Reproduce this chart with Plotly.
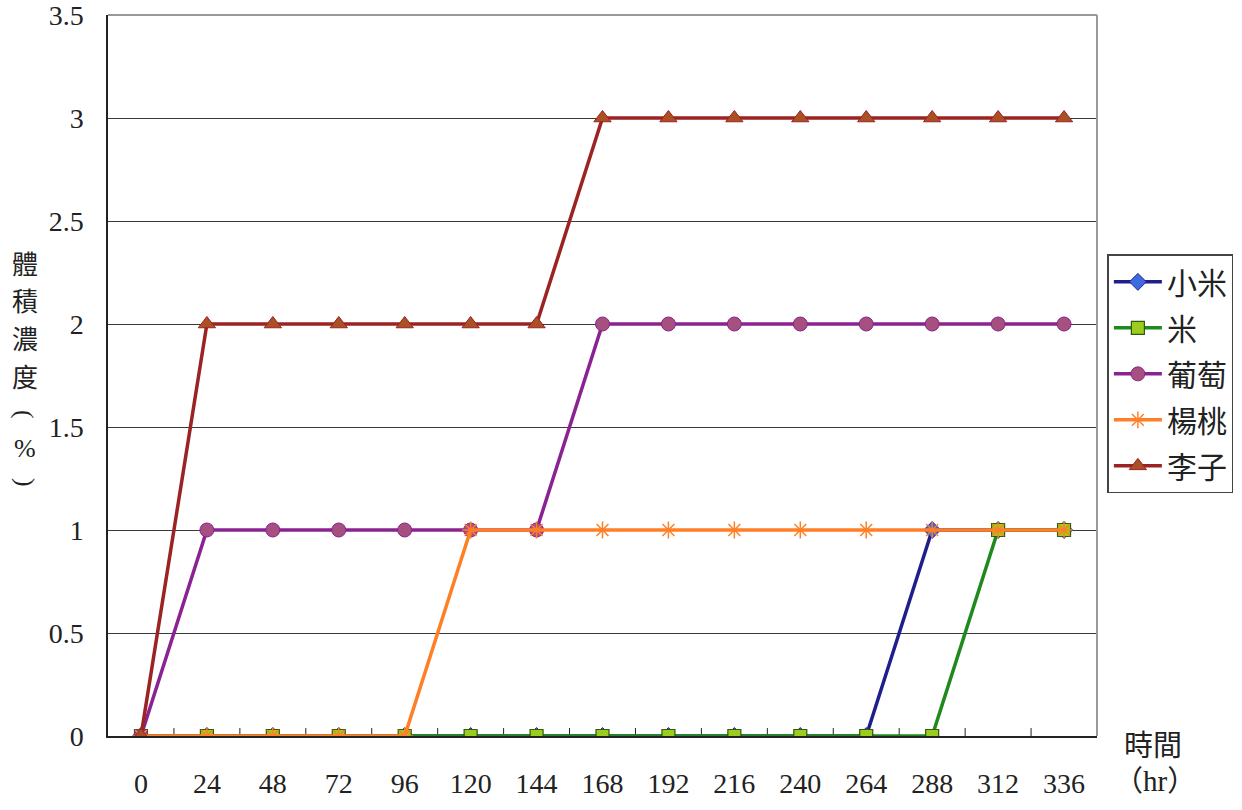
import plotly.graph_objects as go

# Sampling times (hours) and volume concentration (%) for each sample
hours = [0, 24, 48, 72, 96, 120, 144, 168, 192, 216, 240, 264, 288, 312, 336]
hour_labels = [str(h) for h in hours]

millet = [0, 0, 0, 0, 0, 0, 0, 0, 0, 0, 0, 0, 1, 1, 1]        # 小米
rice = [0, 0, 0, 0, 0, 0, 0, 0, 0, 0, 0, 0, 0, 1, 1]          # 米
grape = [0, 1, 1, 1, 1, 1, 1, 2, 2, 2, 2, 2, 2, 2, 2]         # 葡萄
starfruit = [0, 0, 0, 0, 0, 1, 1, 1, 1, 1, 1, 1, 1, 1, 1]     # 楊桃
plum = [0, 2, 2, 2, 2, 2, 2, 3, 3, 3, 3, 3, 3, 3, 3]          # 李子

y_ticks = [0, 0.5, 1, 1.5, 2, 2.5, 3, 3.5]
y_tick_text = ["0", "0.5", "1", "1.5", "2", "2.5", "3", "3.5"]

SERIF = "Liberation Serif, Noto Sans CJK TC, serif"
CJK = "Noto Sans CJK TC, Liberation Serif, serif"

x_idx = list(range(len(hours)))

series = [
    ("小米", millet, "#1f1f8c", dict(symbol="diamond", size=13, color="#3d6be0",
                                    line=dict(color="#1f1f8c", width=1))),
    ("米", rice, "#1e8a1e", dict(symbol="square", size=13, color="#9ccc1e",
                                 line=dict(color="#2f5a10", width=1.2))),
    ("葡萄", grape, "#8a2391", dict(symbol="circle", size=14, color="#a5507f",
                                   line=dict(color="#8a2391", width=1))),
    ("楊桃", starfruit, "#ff7f27", dict(symbol="asterisk-open", size=14, color="#ff7f27",
                                      line=dict(color="#ff7f27", width=1.5))),
    ("李子", plum, "#9b2323", dict(symbol="triangle-up", size=15, color="#ab5024",
                                  line=dict(color="#9b2323", width=1))),
]

fig = go.Figure()
for name, vals, lc, mk in series:
    fig.add_trace(go.Scatter(
        x=x_idx, y=vals, name=name, legendgroup=name, mode="lines+markers",
        line=dict(color=lc, width=3.5), marker=mk,
    ))

fig.update_layout(
    width=1242, height=810,
    margin=dict(l=108, r=145, t=15, b=74, autoexpand=False),
    paper_bgcolor="white", plot_bgcolor="white",
    font=dict(family=SERIF, size=28, color="#222"),
    legend=dict(
        x=1.0105, y=0.668, xanchor="left", yanchor="top",
        bordercolor="#444", borderwidth=1.5, bgcolor="rgba(255,255,255,0)",
        font=dict(family=CJK, size=30, color="#222"),
        tracegroupgap=4, itemwidth=48,
    ),
    showlegend=True,
)

fig.update_xaxes(
    type="linear", range=[-0.5, len(hours) - 0.5],
    tickmode="array", tickvals=x_idx, ticktext=hour_labels,
    showgrid=False, zeroline=False, automargin=False,
    showline=True, linecolor="#222", linewidth=1.5,
    ticks="", ticklabelstandoff=22, ticklabeloverflow="allow",
)

fig.update_yaxes(
    range=[0, 3.50001], tickmode="array", tickvals=y_ticks, ticktext=y_tick_text,
    showgrid=True, gridcolor="#3a3a3a", gridwidth=1, automargin=False,
    zeroline=False, showline=True, linecolor="#222", linewidth=1.5,
    ticks="outside", ticklen=0, ticklabelstandoff=17, ticklabeloverflow="allow",
)

shapes = [
    # top and right frame of the plot area
    dict(type="line", xref="paper", yref="paper", x0=0, x1=1, y0=1, y1=1,
         line=dict(color="#999", width=2), layer="above"),
    dict(type="line", xref="paper", yref="paper", x0=1, x1=1, y0=0, y1=1,
         line=dict(color="#999", width=2), layer="above"),
]
# small upward ticks on category boundaries
for b in range(1, len(hours) + 1):
    shapes.append(dict(type="line", xref="x", yref="paper", x0=b - 0.5, x1=b - 0.5,
                       y0=0, y1=0.011, line=dict(color="#222", width=1), layer="below"))
fig.update_layout(shapes=shapes)

# vertical y-axis title, one character per row; parentheses turned sideways
title_chars = [("體", 262, CJK, 0), ("積", 299, CJK, 0), ("濃", 337, CJK, 0),
               ("度", 375, CJK, 0), ("(", 414, SERIF, 90), ("%", 449, SERIF, 0),
               (")", 482, SERIF, 90)]
annotations = []
for ch, ypix, fam, ang in title_chars:
    annotations.append(dict(
        text=ch, xref="paper", yref="paper",
        x=(25 - 108) / 989, y=(736 - ypix) / 721,
        xanchor="center", yanchor="middle", showarrow=False, textangle=ang,
        font=dict(family=fam, size=26, color="#222"),
    ))
annotations += [
    dict(text="時間", xref="paper", yref="paper", x=(1153 - 108) / 989, y=(736 - 743) / 721,
         xanchor="center", yanchor="middle", showarrow=False,
         font=dict(family=CJK, size=29, color="#222")),
    dict(text="（hr）", xref="paper", yref="paper", x=(1155 - 108) / 989, y=(736 - 781) / 721,
         xanchor="center", yanchor="middle", showarrow=False,
         font=dict(family=SERIF, size=29, color="#222")),
]
fig.update_layout(annotations=annotations)

fig.write_html("out.html")
